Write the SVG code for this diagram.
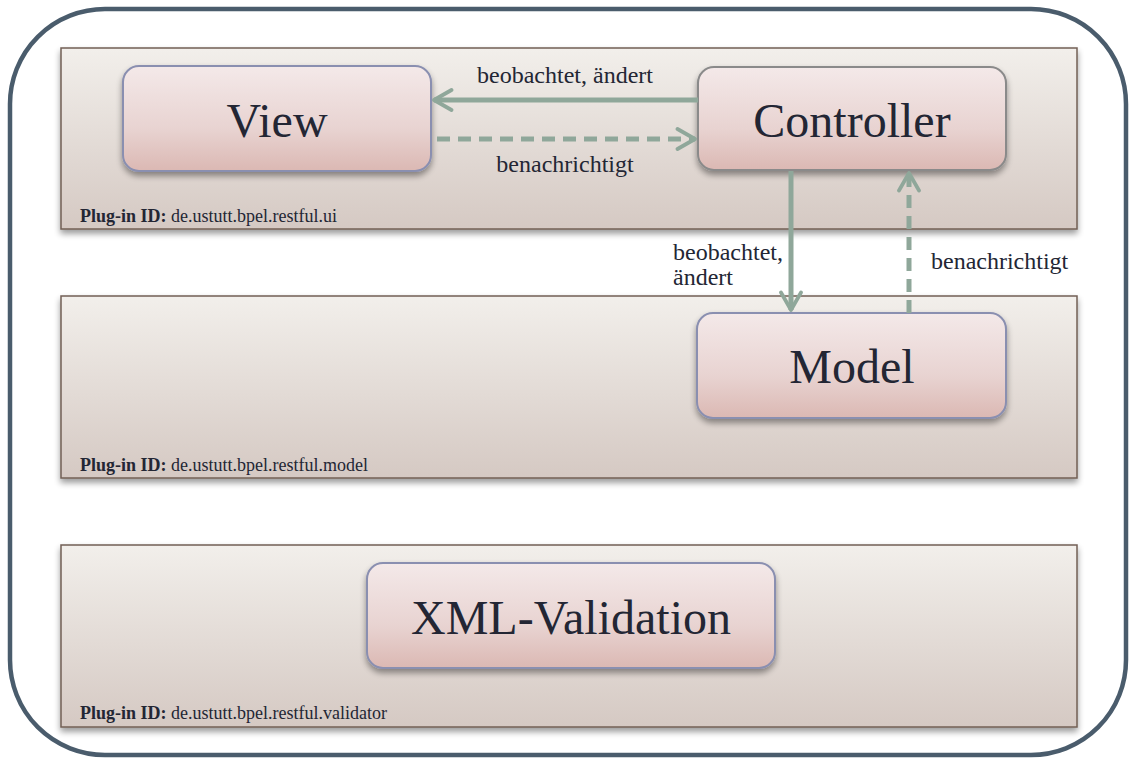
<svg xmlns="http://www.w3.org/2000/svg" width="1135" height="765" viewBox="0 0 1135 765">
<defs>
<linearGradient id="gPanel" x1="0" y1="0" x2="0" y2="1"><stop offset="0" stop-color="#f2efeb"/><stop offset="1" stop-color="#d5c9c3"/></linearGradient>
<linearGradient id="gNode" x1="0" y1="0" x2="0" y2="1"><stop offset="0" stop-color="#f4e9e9"/><stop offset="0.6" stop-color="#e8d3d1"/><stop offset="1" stop-color="#dbb8b3"/></linearGradient>
<filter id="sh" x="-10%" y="-10%" width="120%" height="130%"><feGaussianBlur in="SourceAlpha" stdDeviation="3"/><feOffset dx="0" dy="4" result="b"/><feComponentTransfer><feFuncA type="linear" slope="0.4"/></feComponentTransfer><feMerge><feMergeNode/><feMergeNode in="SourceGraphic"/></feMerge></filter>
<marker id="ah" viewBox="0 0 10 10" refX="8.5" refY="5" markerWidth="5" markerHeight="5" orient="auto" markerUnits="strokeWidth"><path d="M1.5,1 L8.5,5 L1.5,9" fill="none" stroke="#8fa79a" stroke-width="1.5" stroke-linecap="round" stroke-linejoin="round"/></marker>
</defs>
<style>
.panel{fill:url(#gPanel);stroke:#725f55;stroke-width:1.5;filter:url(#sh)}
.node{fill:url(#gNode);stroke:#8a8fb0;stroke-width:2;filter:url(#sh)}
.ntext{font-family:"Liberation Serif","Times New Roman",serif;font-size:48px;fill:#232634;text-anchor:middle}
.pid{font-family:"Liberation Serif","Times New Roman",serif;font-size:18px;fill:#232634}
.lbl{font-family:"Liberation Serif","Times New Roman",serif;font-size:24px;fill:#232634}
.conn{stroke:#8fa79a;stroke-width:5;fill:none;marker-end:url(#ah)}
.dash{stroke-dasharray:13 8}
</style>
<rect x="10" y="9" width="1116" height="746" rx="95" fill="#ffffff" stroke="#4a5c6c" stroke-width="4.5"/>
<g id="panel-ui"><rect class="panel" x="61" y="48" width="1016" height="181"/>
<text class="pid" x="80" y="222"><tspan font-weight="bold">Plug-in ID:</tspan> de.ustutt.bpel.restful.ui</text></g>
<g id="panel-model"><rect class="panel" x="61" y="296" width="1016" height="182"/>
<text class="pid" x="80" y="471"><tspan font-weight="bold">Plug-in ID:</tspan> de.ustutt.bpel.restful.model</text></g>
<g id="panel-validator"><rect class="panel" x="61" y="545" width="1016" height="182"/>
<text class="pid" x="80" y="719"><tspan font-weight="bold">Plug-in ID:</tspan> de.ustutt.bpel.restful.validator</text></g>
<g id="view"><rect class="node" x="123" y="66" width="308" height="105" rx="16"/><text class="ntext" x="277" y="137">View</text></g>
<g id="controller"><rect class="node" x="698" y="67" width="308" height="103" rx="16" style="stroke:#8a8a8a"/><text class="ntext" x="852" y="137">Controller</text></g>
<g id="model"><rect class="node" x="697" y="313" width="309" height="105" rx="16"/><text class="ntext" x="852" y="383">Model</text></g>
<g id="xml-validation"><rect class="node" x="367" y="563" width="408" height="105" rx="16"/><text class="ntext" x="571" y="634">XML-Validation</text></g>
<g id="connectors">
<line class="conn" x1="698" y1="100" x2="434" y2="100"/>
<line class="conn dash" x1="437" y1="139" x2="695" y2="139"/>
<line class="conn" x1="791" y1="171" x2="791" y2="310"/>
<line class="conn dash" x1="909" y1="313" x2="909" y2="173"/>
<text class="lbl" x="565" y="83" text-anchor="middle">beobachtet, ändert</text>
<text class="lbl" x="565" y="172" text-anchor="middle">benachrichtigt</text>
<text class="lbl" x="673" y="260">beobachtet,</text>
<text class="lbl" x="673" y="285">ändert</text>
<text class="lbl" x="931" y="269">benachrichtigt</text>
</g>
</svg>
